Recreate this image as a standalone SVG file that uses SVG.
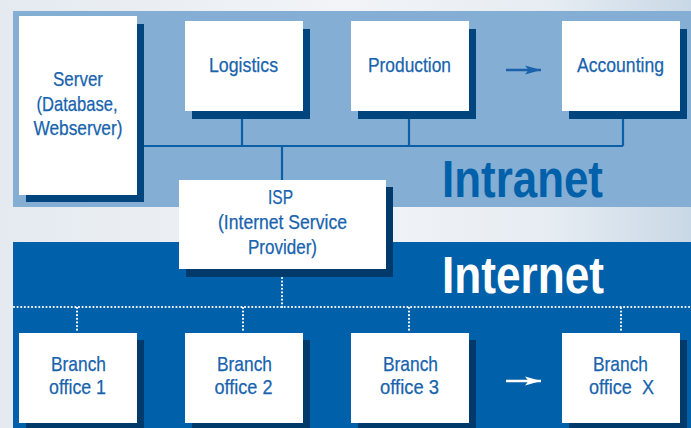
<svg xmlns="http://www.w3.org/2000/svg" width="691" height="428" viewBox="0 0 691 428">
  <defs>
    <linearGradient id="bg" x1="0" y1="0" x2="1" y2="0">
      <stop offset="0" stop-color="#E4EAF0"/>
      <stop offset="0.5" stop-color="#F2F4F7"/>
      <stop offset="0.8" stop-color="#E6ECF2"/>
      <stop offset="1" stop-color="#C9D8E6"/>
    </linearGradient>
    <marker id="arrB" viewBox="0 0 16 10" refX="16" refY="5" markerWidth="16" markerHeight="10" markerUnits="userSpaceOnUse" orient="auto">
      <path d="M0,0.5 L16,5 L0,9.5 L3.5,5 Z" fill="#1A62AC"/>
    </marker>
    <marker id="arrW" viewBox="0 0 16 10" refX="16" refY="5" markerWidth="16" markerHeight="10" markerUnits="userSpaceOnUse" orient="auto">
      <path d="M0,0.5 L16,5 L0,9.5 L3.5,5 Z" fill="#FFFFFF"/>
    </marker>
  </defs>
  <style>
    .box { fill: #FFFFFF; }
    .sh1 { fill: #00457E; }
    .sh2 { fill: #003A6A; }
    .lbl { font-family: "Liberation Sans", Arial, sans-serif; font-size: 21px; fill: #1763AD; stroke: #1763AD; stroke-width: 0.25; text-anchor: middle; }
    .big { font-family: "Liberation Sans", Arial, sans-serif; font-weight: bold; font-size: 51px; }
    .solid { stroke: #0A5FA6; stroke-width: 2.2; fill: none; }
    .dot { stroke: #FFFFFF; stroke-width: 2.2; fill: none; stroke-dasharray: 0.01 3.6; stroke-linecap: round; }
  </style>

  <rect x="0" y="0" width="691" height="428" fill="url(#bg)"/>
  <rect x="13" y="11" width="678" height="196" fill="#84AED4"/>
  <rect x="13" y="242" width="678" height="186" fill="#0060AA"/>

  <text class="big" x="442" y="197" textLength="161" lengthAdjust="spacingAndGlyphs" fill="#0060AA">Intranet</text>
  <text class="big" x="442" y="293" textLength="162" lengthAdjust="spacingAndGlyphs" fill="#FFFFFF">Internet</text>

  <g id="connectors">
    <path class="solid" d="M144,146 H623 M242,119 V146 M409,119 V146 M623,119 V146 M282,146 V180"/>
    <line x1="506" y1="70" x2="541" y2="70" stroke="#1A62AC" stroke-width="2.5" marker-end="url(#arrB)"/>
    <path class="dot" d="M14,307 H691 M282,278 V307 M77,308 V332 M243,308 V332 M409,308 V332 M621,308 V332"/>
    <line x1="506" y1="381" x2="541" y2="381" stroke="#FFFFFF" stroke-width="2.5" marker-end="url(#arrW)"/>
  </g>

  <g id="server">
    <rect class="sh1" x="26" y="24" width="118" height="178"/>
    <rect class="box" x="19" y="16" width="118" height="179"/>
    <text class="lbl" x="78" y="86" textLength="50" lengthAdjust="spacingAndGlyphs">Server</text>
    <text class="lbl" x="77" y="111" textLength="81" lengthAdjust="spacingAndGlyphs">(Database,</text>
    <text class="lbl" x="78" y="135" textLength="89" lengthAdjust="spacingAndGlyphs">Webserver)</text>
  </g>
  <g id="logistics">
    <rect class="sh1" x="192" y="29" width="118" height="90"/>
    <rect class="box" x="185" y="21" width="118" height="90"/>
    <text class="lbl" x="243.5" y="72" textLength="69" lengthAdjust="spacingAndGlyphs">Logistics</text>
  </g>
  <g id="production">
    <rect class="sh1" x="358" y="29" width="118" height="90"/>
    <rect class="box" x="351" y="21" width="118" height="90"/>
    <text class="lbl" x="409.5" y="72" textLength="83" lengthAdjust="spacingAndGlyphs">Production</text>
  </g>
  <g id="accounting">
    <rect class="sh1" x="569" y="29" width="118" height="90"/>
    <rect class="box" x="562" y="21" width="118" height="90"/>
    <text class="lbl" x="620.5" y="72" textLength="87" lengthAdjust="spacingAndGlyphs">Accounting</text>
  </g>
  <g id="isp">
    <rect class="sh2" x="186" y="187" width="207" height="90"/>
    <rect class="box" x="179" y="180" width="207" height="89"/>
    <text class="lbl" x="280.5" y="204" textLength="25" lengthAdjust="spacingAndGlyphs">ISP</text>
    <text class="lbl" x="282.5" y="229" textLength="129" lengthAdjust="spacingAndGlyphs">(Internet Service</text>
    <text class="lbl" x="282.5" y="254" textLength="69" lengthAdjust="spacingAndGlyphs">Provider)</text>
  </g>
  <g id="branch1">
    <rect class="sh2" x="26" y="340" width="118" height="90"/>
    <rect class="box" x="19" y="333" width="118" height="90"/>
    <text class="lbl" x="78.5" y="371" textLength="55" lengthAdjust="spacingAndGlyphs">Branch</text>
    <text class="lbl" x="77.5" y="394" textLength="57" lengthAdjust="spacingAndGlyphs">office 1</text>
  </g>
  <g id="branch2">
    <rect class="sh2" x="192" y="340" width="118" height="90"/>
    <rect class="box" x="185" y="333" width="118" height="90"/>
    <text class="lbl" x="244.5" y="371" textLength="55" lengthAdjust="spacingAndGlyphs">Branch</text>
    <text class="lbl" x="243.5" y="394" textLength="58" lengthAdjust="spacingAndGlyphs">office 2</text>
  </g>
  <g id="branch3">
    <rect class="sh2" x="358" y="340" width="118" height="90"/>
    <rect class="box" x="351" y="333" width="118" height="90"/>
    <text class="lbl" x="410.5" y="371" textLength="55" lengthAdjust="spacingAndGlyphs">Branch</text>
    <text class="lbl" x="409.5" y="394" textLength="59" lengthAdjust="spacingAndGlyphs">office 3</text>
  </g>
  <g id="branchX">
    <rect class="sh2" x="569" y="340" width="118" height="90"/>
    <rect class="box" x="562" y="333" width="118" height="90"/>
    <text class="lbl" x="620.5" y="371" textLength="55" lengthAdjust="spacingAndGlyphs">Branch</text>
    <text class="lbl" x="621.5" y="394" textLength="65" lengthAdjust="spacingAndGlyphs" xml:space="preserve">office  X</text>
  </g>
</svg>
